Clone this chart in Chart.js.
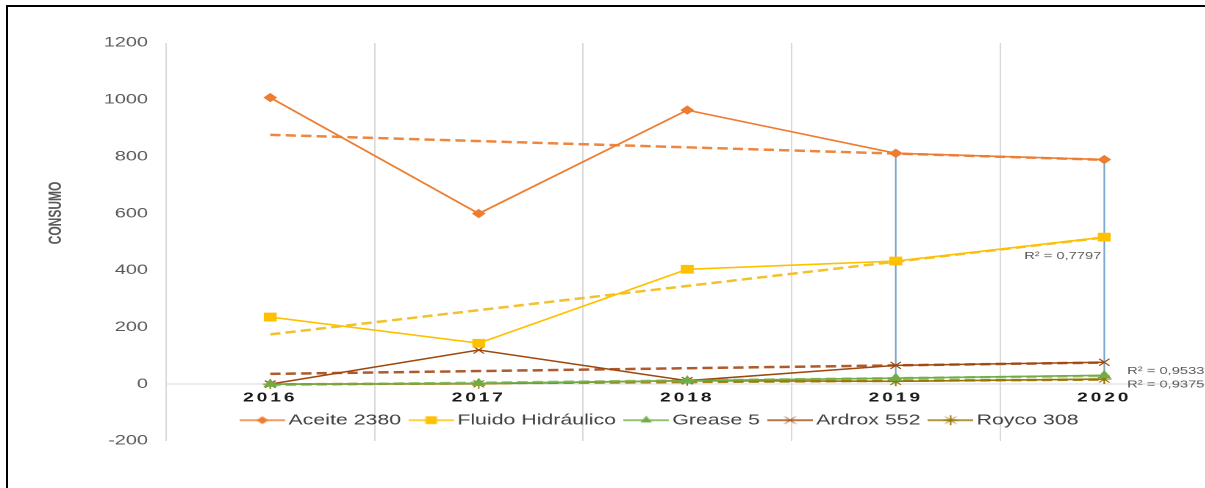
<!DOCTYPE html>
<html>
<head>
<meta charset="utf-8">
<script src="https://cdn.jsdelivr.net/npm/chart.js@4.4.1/dist/chart.umd.min.js"></script>
<style>
  html, body { margin: 0; padding: 0; background: #fff; overflow: hidden; width: 1205px; height: 488px; }
  #frame { position: absolute; left: 6px; top: 5px; width: 1400px; height: 700px; border: 2px solid #000; }
  /* the source picture is stretched sideways, so the chart is drawn narrow and widened */
  #wrap { position: absolute; left: 0; top: 0; width: 830px; height: 488px; transform: scaleX(1.47); transform-origin: 0 0; }
</style>
</head>
<body>
<div id="frame"></div>
<div id="wrap"><canvas id="consumo-chart" width="830" height="488"></canvas></div>
<script>
const STRETCH = 1.47;

// values
const years = ['2016', '2017', '2018', '2019', '2020'];
const aceite = [1008, 600, 964, 812, 790];
const fluido = [236, 144, 404, 433, 517];
const grease = [0, 3, 12, 21, 31];
const ardrox = [0, 120, 12, 66, 77];
const royco = [0, 1, 12, 10, 18];

// linear trend lines, start (2016) and end (2020) values
const aceiteTrend = [877, null, null, null, 789];
const fluidoTrend = [175, null, null, null, 516];
const greaseTrend = [-3, null, null, null, 29];
const ardroxTrend = [36, null, null, null, 76];
const roycoTrend = [-1, null, null, null, 16];

const r2Texts = ['R\u00B2 = 0,7797', 'R\u00B2 = 0,9533', 'R\u00B2 = 0,9375'];
const r2Values = [450, 46, -2];

function drawMarker(g, style, x, y, r) {
    g.beginPath();
    if (style === 'rectRot') {
        g.moveTo(x - r, y); g.lineTo(x, y - r); g.lineTo(x + r, y); g.lineTo(x, y + r);
        g.closePath(); g.fill();
    } else if (style === 'rect') {
        const s = r * Math.SQRT1_2;
        g.fillRect(x - s, y - s, 2 * s, 2 * s);
    } else if (style === 'triangle') {
        g.moveTo(x, y - r); g.lineTo(x + 0.866 * r, y + 0.5 * r); g.lineTo(x - 0.866 * r, y + 0.5 * r);
        g.closePath(); g.fill();
    } else {
        const s = r * Math.SQRT1_2;
        g.lineWidth = 1;
        g.moveTo(x - s, y - s); g.lineTo(x + s, y + s);
        g.moveTo(x - s, y + s); g.lineTo(x + s, y - s);
        if (style === 'star') {
            g.moveTo(x, y - r); g.lineTo(x, y + r);
            g.moveTo(x - r, y); g.lineTo(x + r, y);
        }
        g.stroke();
    }
}

function legendIcon(color, style, r) {
    const c = document.createElement('canvas');
    c.width = 31; c.height = 12;
    const g = c.getContext('2d');
    g.strokeStyle = color; g.fillStyle = color; g.lineWidth = 1.5;
    g.beginPath(); g.moveTo(0, 6); g.lineTo(31, 6); g.stroke();
    drawMarker(g, style, 15.5, 6, r);
    return c;
}

function series(label, data, color, style, r) {
    return {
        label, data,
        borderColor: color, backgroundColor: color,
        borderWidth: 1.6,
        pointStyle: style, pointRadius: r, pointBorderWidth: 1,
        pointBackgroundColor: color, pointBorderColor: color,
        tension: 0,
        icon: legendIcon(color, style, r)
    };
}

function trend(data, color) {
    return {
        label: 'trend', data,
        borderColor: color, borderWidth: 2.5, borderDash: [7, 3.5],
        pointRadius: 0, spanGaps: true, tension: 0
    };
}

function dropLine(i) {
    return {
        label: 'drop',
        data: [{ x: years[i], y: aceite[i] }, { x: years[i], y: 0 }],
        borderColor: '#6C9CC4', borderWidth: 1, pointRadius: 0
    };
}

const layoutTweaks = {
    id: 'layoutTweaks',
    beforeLayout(chart) {
        // legend sits inside the plot, so it must not take space
        const lg = chart.legend;
        if (lg && !lg._noSpace) {
            const fit = lg.fit.bind(lg);
            lg.fit = function () { fit(); this.height = 0; };
            lg._noSpace = true;
        }
    },
    afterLayout(chart) {
        const lg = chart.legend;
        lg.left = 158;
        lg.top = 403;
        lg.right = lg.left + 700;
        lg.bottom = lg.top + 34;
        lg.height = 34;
        const xs = chart.scales.x;
        if (!xs._spaced) {
            const orig = xs.drawLabels.bind(xs);
            xs.drawLabels = function (area) {
                const c = this.ctx;
                c.save();
                c.letterSpacing = '2px';
                orig(area);
                c.restore();
            };
            xs._spaced = true;
        }
    },
    afterDraw(chart) {
        const c = chart.ctx;
        const xs = chart.scales.x, ys = chart.scales.y;
        c.save();
        // axis title
        c.translate(56 / STRETCH, 213);
        c.rotate(-Math.PI / 2);
        c.font = 'bold 12px "Liberation Sans", Arial, sans-serif';
        c.fillStyle = '#595959';
        c.textAlign = 'center';
        c.textBaseline = 'middle';
        c.fillText('CONSUMO', 0, 0);
        c.restore();

        // R² labels of the trend lines
        c.save();
        c.font = '10px "Liberation Sans", Arial, sans-serif';
        c.fillStyle = '#595959';
        c.textBaseline = 'middle';
        const x2020 = xs.getPixelForValue(4);
        const dx = [-54.5, 15.6, 15.6];
        r2Texts.forEach((t, i) => {
            c.fillText(t, x2020 + dx[i], ys.getPixelForValue(r2Values[i]));
        });
        c.restore();
    }
};

const ctx = document.getElementById('consumo-chart').getContext('2d');
const consumoChart = new Chart(ctx, {
    type: 'line',
    data: {
        labels: years,
        datasets: [
            series('Aceite 2380', aceite, '#ED7D31', 'rectRot', 4),
            series('Fluido Hidráulico', fluido, '#FFC000', 'rect', 5.5),
            series('Grease 5', grease, '#70AD47', 'triangle', 4.5),
            series('Ardrox 552', ardrox, '#9E480E', 'crossRot', 5),
            series('Royco 308', royco, '#997300', 'star', 5),
            trend(aceiteTrend, '#EE8540'),
            trend(fluidoTrend, '#F2C12E'),
            trend(greaseTrend, '#96C878'),
            trend(ardroxTrend, '#AD5A2E'),
            trend(roycoTrend, '#A8871E'),
            dropLine(3),
            dropLine(4)
        ]
    },
    options: {
        responsive: false,
        animation: false,
        devicePixelRatio: 2,
        layout: {
            padding: { left: 0, top: 43, right: 830 - 1208.5 / STRETCH, bottom: 47 }
        },
        plugins: {
            title: { display: false },
            tooltip: { enabled: false },
            legend: {
                position: 'bottom',
                align: 'start',
                labels: {
                    usePointStyle: true,
                    pointStyleWidth: 21,
                    padding: 10,
                    color: '#404040',
                    font: { family: '"Liberation Sans", Arial, sans-serif', size: 14.5 },
                    generateLabels: (chart) => chart.data.datasets.slice(0, 5).map((ds, i) => ({
                        text: ds.label,
                        pointStyle: ds.icon,
                        fillStyle: ds.borderColor,
                        strokeStyle: ds.borderColor,
                        lineWidth: 0,
                        hidden: false,
                        datasetIndex: i,
                        fontColor: '#404040'
                    }))
                }
            }
        },
        scales: {
            x: {
                type: 'category',
                position: { y: 0 },
                offset: true,
                grid: { offset: true, color: '#D9D9D9', lineWidth: 1, drawTicks: false },
                border: { display: true, color: '#D9D9D9', width: 1 },
                ticks: {
                    color: '#1A1A1A',
                    padding: 6,
                    font: { family: '"Liberation Sans", Arial, sans-serif', size: 13, weight: 'bold' }
                }
            },
            y: {
                min: -200,
                max: 1200,
                grid: { display: false, drawTicks: false },
                border: { display: false },
                ticks: {
                    stepSize: 200,
                    padding: 12.3,
                    color: '#595959',
                    font: { family: '"Liberation Sans", Arial, sans-serif', size: 13.5 },
                    callback: (v) => String(v)
                },
                afterFit(scale) { scale.width = 166 / STRETCH; }
            }
        }
    },
    plugins: [layoutTweaks]
});
</script>
</body>
</html>
